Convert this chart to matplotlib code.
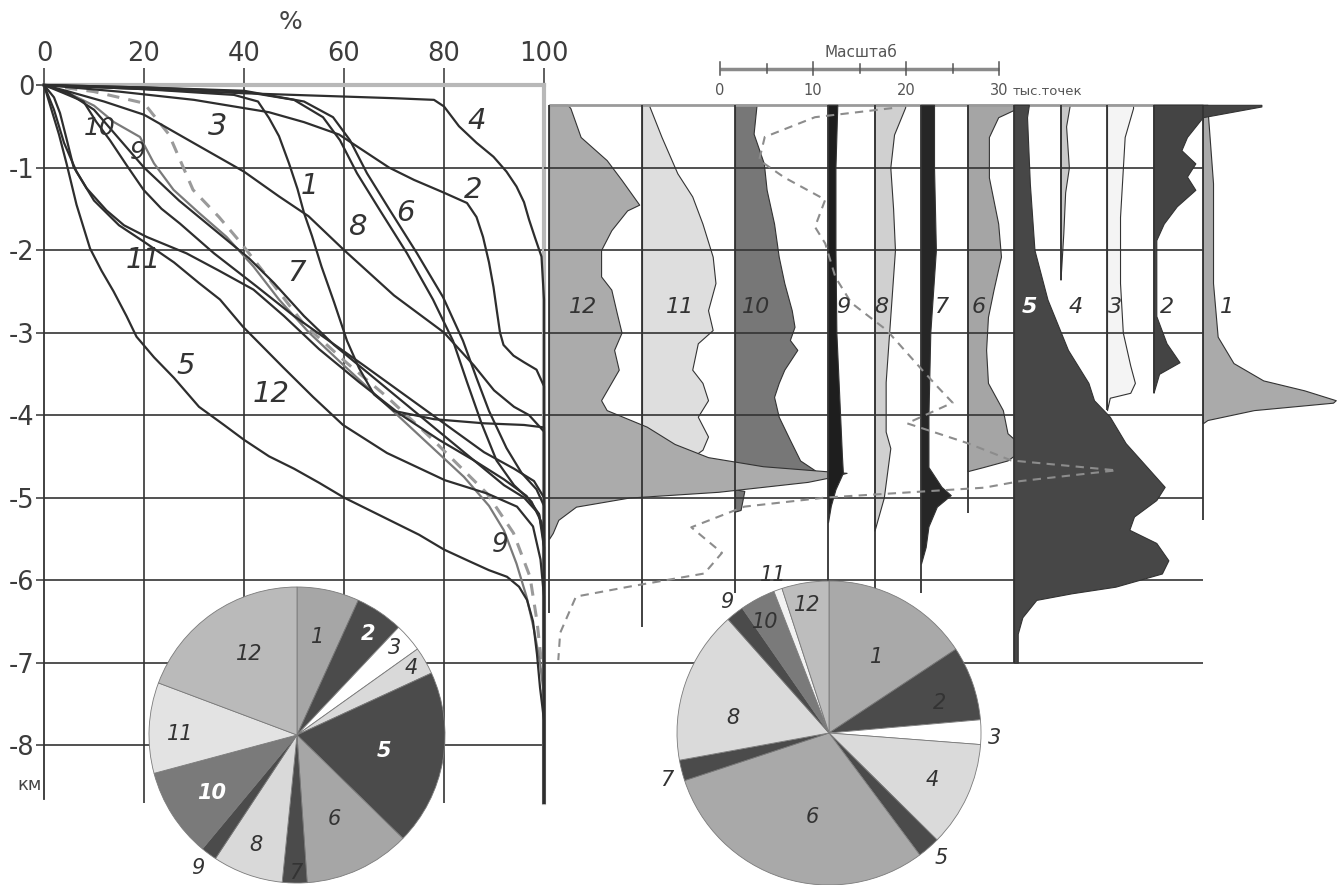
import matplotlib
matplotlib.use('Agg')
import matplotlib.pyplot as plt

plt.rcParams['font.family'] = ['DejaVu Sans']
plt.rcParams['axes.unicode_minus'] = False

W, H = 1337, 885

# ---------- cumulative curves: percent of points vs depth (km) ----------
curves = {
    '4': ([0, 20, 40, 60, 70, 78, 80, 83, 86.5, 89.9, 92.5, 94.5, 96, 97, 98.2, 99.5, 100, 100],
          [0, -0.05, -0.1, -0.14, -0.16, -0.18, -0.26, -0.5, -0.7, -0.87, -1.05, -1.23, -1.42, -1.63, -1.85, -2.08, -2.6, -8.7]),
    '2': ([0, 15, 30, 45, 52, 59, 64, 69, 74, 79.8, 84.6, 86.5, 87.8, 89, 89.9, 90.6, 91.2, 91.9, 93.9, 96, 98.5, 100, 100],
          [0, -0.08, -0.18, -0.33, -0.45, -0.6, -0.8, -1.0, -1.15, -1.3, -1.43, -1.6, -1.84, -2.15, -2.45, -2.75, -3.0, -3.15, -3.28, -3.36, -3.45, -3.65, -8.7]),
    '8': ([0, 20, 40, 50, 55.8, 59.2, 62.6, 67.2, 72.6, 77.8, 81.8, 84.6, 87.5, 90.5, 94, 97.5, 99.5, 100, 100],
          [0, -0.03, -0.08, -0.18, -0.39, -0.67, -1.07, -1.52, -2.04, -2.6, -3.1, -3.6, -4.1, -4.55, -4.85, -5.05, -5.3, -5.6, -8.7]),
    '6': ([0, 20, 40, 52, 57.8, 61.2, 64.6, 69.2, 74.6, 79.8, 83.8, 86.5, 89, 92.5, 95.5, 98.5, 100, 100],
          [0, -0.03, -0.07, -0.2, -0.39, -0.67, -1.07, -1.52, -2.04, -2.57, -3.1, -3.55, -3.95, -4.4, -4.7, -4.9, -5.1, -8.7]),
    '1': ([0, 20, 38, 42.8, 45, 47, 49, 50.7, 52, 53.6, 55.5, 58, 60.6, 63, 66, 70, 78, 88, 96, 100, 100],
          [0, -0.05, -0.12, -0.2, -0.4, -0.62, -0.95, -1.26, -1.55, -1.83, -2.2, -2.63, -3.1, -3.43, -3.75, -3.95, -4.05, -4.1, -4.12, -4.15, -8.7]),
    '3': ([0, 5, 12, 20, 31, 40, 47, 52.9, 60, 70, 80, 86, 90, 94, 97, 100, 100],
          [0, -0.08, -0.2, -0.36, -0.74, -1.05, -1.35, -1.59, -2.0, -2.55, -3.0, -3.4, -3.7, -3.9, -4.0, -4.2, -8.7]),
    '7': ([0, 5, 10, 15, 20, 27, 34, 41, 46, 52, 58, 64, 72, 80, 87, 92, 96, 99, 100, 100],
          [0, -0.1, -0.3, -0.65, -1.0, -1.4, -1.75, -2.1, -2.4, -2.8, -3.15, -3.45, -3.85, -4.25, -4.6, -4.85, -5.0, -5.2, -5.5, -8.7]),
    '10': ([0, 4, 7.9, 10.5, 13.2, 16.5, 19.9, 23.5, 27.2, 34, 42.5, 50, 57, 64, 72, 80, 88, 94, 98, 100, 100],
           [0, -0.1, -0.2, -0.45, -0.67, -0.97, -1.27, -1.5, -1.68, -2.04, -2.44, -2.8, -3.1, -3.4, -3.75, -4.1, -4.45, -4.65, -4.8, -5.0, -8.7]),
    '11': ([0, 2, 3.2, 4.5, 5.9, 8.5, 12.5, 16, 20.5, 28.5, 35, 41.9, 48, 55, 63, 71, 79, 86, 92, 96.5, 99, 100, 100],
           [0, -0.15, -0.34, -0.65, -0.99, -1.25, -1.52, -1.7, -1.84, -2.04, -2.25, -2.48, -2.8, -3.2, -3.6, -3.98, -4.3, -4.55, -4.78, -4.98, -5.2, -5.6, -8.7]),
    '12': ([0, 2, 4, 6.5, 10, 15, 20, 26, 31, 35.2, 39.8, 47.8, 53.8, 59.8, 68.6, 80.2, 88.6, 94.6, 97.8, 99.3, 100, 100],
           [0, -0.3, -0.7, -1.05, -1.4, -1.7, -1.9, -2.15, -2.4, -2.6, -2.93, -3.42, -3.78, -4.12, -4.46, -4.79, -4.95, -5.11, -5.35, -5.75, -6.2, -8.7]),
    '5': ([0, 1.5, 3, 4.5, 6.5, 9.2, 11.5, 13.9, 16.5, 18.5, 22, 26, 31, 36, 40, 45, 50, 55, 60, 65, 70, 75, 80, 85, 89, 92.6, 95, 96.6, 97.8, 98.6, 99.2, 100, 100],
          [0, -0.3, -0.6, -0.95, -1.45, -1.98, -2.25, -2.5, -2.8, -3.05, -3.3, -3.55, -3.9, -4.12, -4.3, -4.5, -4.65, -4.82, -5.0, -5.15, -5.3, -5.45, -5.63, -5.77, -5.88, -5.96, -6.08, -6.24, -6.5, -6.9, -7.3, -7.7, -8.7]),
}
curve9_pct = [0, 5, 10, 14, 19.2, 22, 25.9, 31, 36.5, 41.9, 47, 53, 60, 68, 76, 84, 89, 92, 94.5, 96.5, 98, 99.2, 100, 100]
curve9_dep = [0, -0.1, -0.25, -0.45, -0.63, -0.95, -1.27, -1.55, -1.84, -2.2, -2.6, -3.0, -3.4, -3.85, -4.3, -4.75, -5.1, -5.4, -5.8, -6.2, -6.6, -7.0, -7.4, -8.7]
total_pct = [0, 10, 20, 25, 29.8, 35, 39.2, 45, 52, 60.6, 68.6, 77.8, 88.6, 93.9, 97.2, 98.6, 99.5, 100, 100]
total_dep = [0, -0.08, -0.22, -0.6, -1.27, -1.6, -1.9, -2.35, -2.9, -3.37, -3.78, -4.3, -4.95, -5.43, -5.96, -6.5, -7.0, -7.5, -8.7]

curve_labels = ['10', '9', '3', '1', '8', '6', '2', '4', '7', '11', '5', '12', '9']
curve_label_x = [11.2, 18.7, 34.8, 53.0, 62.6, 72.2, 85.8, 86.6, 50.5, 19.8, 28.3, 45.5, 91.2]
curve_label_y = [-0.52, -0.81, -0.5, -1.23, -1.72, -1.55, -1.27, -0.44, -2.28, -2.12, -3.41, -3.74, -5.58]
curve_label_size = [18, 18, 22, 20, 21, 21, 21, 21, 21, 20, 21, 21, 19]

# ---------- depth profiles, thousand points ----------
hist = {
    '12': ([-0.24, -0.28, -0.63, -0.91, -1.15, -1.45, -1.52, -1.76, -2.0, -2.32, -2.48, -2.77, -3.0, -3.21, -3.45, -3.82, -3.94, -4.14, -4.35, -4.51, -4.62, -4.7, -4.76, -4.81, -4.93, -5.0, -5.11, -5.27, -5.43, -5.5],
           [2.0, 2.3, 3.4, 6.2, 7.8, 9.7, 8.4, 6.7, 5.6, 5.6, 6.7, 7.3, 7.8, 7.0, 7.5, 5.6, 6.2, 10.5, 13.5, 17.1, 23, 32, 30, 27.8, 18.2, 8.6, 2.9, 1.0, 0.4, 0]),
    '11': ([-0.24, -0.26, -0.63, -1.07, -1.35, -1.68, -2.08, -2.4, -2.73, -2.97, -3.13, -3.45, -3.61, -3.82, -4.02, -4.26, -4.42, -4.5, -4.6, -4.7],
           [0.8, 0.8, 2.1, 3.8, 5.4, 6.5, 7.6, 7.9, 7.1, 7.6, 6.0, 5.4, 6.5, 7.1, 6.0, 7.1, 6.5, 5.5, 3.0, 0]),
    '10': ([-0.24, -0.26, -0.59, -0.95, -1.27, -1.68, -2.08, -2.4, -2.73, -2.93, -3.09, -3.21, -3.45, -3.61, -3.78, -4.02, -4.3, -4.55, -4.67, -4.72, -4.9, -4.92, -5.15, -5.17],
           [2.3, 2.3, 2.0, 3.1, 3.4, 4.2, 4.7, 5.3, 6.1, 6.4, 5.9, 6.7, 5.3, 4.7, 4.2, 4.7, 5.9, 7.0, 8.6, 0, 0, 1.0, 0.6, 0]),
    '9': ([-0.24, -1.0, -2.0, -3.0, -3.5, -4.0, -4.5, -4.7, -4.9, -5.1, -5.3],
          [1.0, 0.8, 0.8, 0.9, 1.1, 1.3, 1.5, 1.6, 0.8, 0.3, 0]),
    '8': ([-0.24, -0.27, -0.6, -1.0, -1.5, -2.0, -2.8, -3.6, -4.2, -4.4, -5.0, -5.2, -5.4],
          [3.3, 3.3, 2.1, 1.7, 2.0, 2.2, 1.7, 1.2, 1.2, 1.7, 1.0, 0.5, 0]),
    '7': ([-0.24, -1.0, -2.0, -3.0, -4.0, -4.63, -4.87, -4.97, -5.11, -5.35, -5.6, -5.8],
          [1.4, 1.4, 1.6, 1.0, 0.8, 0.8, 2.2, 3.2, 1.7, 0.8, 0.5, 0]),
    '6': ([-0.24, -0.28, -0.39, -0.63, -1.12, -1.68, -2.08, -2.48, -2.81, -3.21, -3.61, -3.94, -4.22, -4.38, -4.45, -4.55, -4.63, -4.68],
          [5.4, 5.4, 3.3, 2.3, 2.3, 3.3, 3.6, 2.8, 2.2, 2.0, 2.2, 3.8, 4.3, 5.9, 5.5, 4.3, 1.7, 0]),
    '5': ([-0.24, -0.39, -1.19, -2.0, -2.6, -3.21, -3.61, -3.82, -4.02, -4.34, -4.63, -4.87, -5.03, -5.23, -5.39, -5.55, -5.76, -5.92, -6.08, -6.16, -6.24, -6.45, -6.65, -7.0],
          [1.6, 1.4, 1.7, 2.2, 3.6, 5.8, 8.0, 8.6, 10.3, 12.0, 14.3, 16.2, 15.3, 12.9, 12.4, 15.3, 16.6, 15.9, 10.9, 6.2, 2.4, 0.9, 0.4, 0.4]),
    '4': ([-0.24, -0.5, -1.0, -1.3, -1.8, -2.36],
          [1.0, 0.6, 0.9, 0.5, 0.3, 0]),
    '3': ([-0.24, -0.28, -0.63, -1.6, -2.4, -3.0, -3.4, -3.61, -3.73, -3.79, -3.94],
          [2.8, 2.8, 1.9, 1.4, 1.4, 1.7, 2.5, 3.0, 2.5, 0.3, 0]),
    '2': ([-0.24, -0.26, -0.39, -0.63, -0.79, -0.95, -1.11, -1.27, -1.47, -1.68, -1.88, -2.8, -3.13, -3.36, -3.5, -3.73],
          [11.6, 11.6, 5.3, 3.6, 3.0, 4.5, 3.6, 4.5, 2.5, 1.1, 0.3, 0.3, 1.4, 2.8, 0.6, 0]),
    '1': ([-0.24, -0.28, -1.19, -2.4, -3.05, -3.37, -3.58, -3.7, -3.82, -3.85, -3.94, -4.06, -4.1],
          [0.5, 0.5, 1.1, 1.1, 1.6, 3.3, 6.5, 10.9, 14.3, 14.0, 5.5, 0.5, 0]),
}
hist_order = ['11', '10', '12', '9', '8', '7', '6', '5', '4', '3', '2', '1']
hist_base = {'12': 0, '11': 10, '10': 20, '9': 30, '8': 35, '7': 40, '6': 45,
             '5': 50, '4': 55, '3': 60, '2': 65, '1': 70.3}
hist_bottom = {'12': -6.4, '11': -6.57, '10': -6.16, '9': -7.0, '8': -6.57, '7': -6.16,
               '6': -5.19, '5': -7.0, '4': -2.36, '3': -3.94, '2': -3.73, '1': -5.27}
hist_color = {'12': '#ababab', '11': '#dedede', '10': '#777777', '9': '#1e1e1e',
              '8': '#d0d0d0', '7': '#262626', '6': '#a5a5a5', '5': '#474747',
              '4': '#c8c8c8', '3': '#f4f4f4', '2': '#444444', '1': '#aaaaaa'}
hist_label_x = {'12': 3.7, '11': 14.1, '10': 22.3, '9': 31.6, '8': 35.7, '7': 42.3,
                '6': 46.2, '5': 51.7, '4': 56.6, '3': 60.9, '2': 66.4, '1': 72.9}

# total profile (dashed), thousand points from left baseline
total_k = [36.9, 28.6, 23.2, 22.6, 25.3, 29.7, 28.6, 29.7, 30.8, 32.5, 36.3, 40.1, 41.8, 43.4, 38.5, 45.0,
           49.7, 61.0, 50.7, 46.8, 29.7, 21.0, 15.3, 18.6, 16.7, 8.6, 2.9, 1.2, 1.0]
total_kd = [-0.28, -0.39, -0.63, -0.91, -1.12, -1.39, -1.72, -1.92, -2.33, -2.64, -2.97, -3.45, -3.66, -3.85,
            -4.1, -4.34, -4.55, -4.67, -4.8, -4.88, -5.0, -5.11, -5.36, -5.67, -5.92, -6.08, -6.2, -6.64, -6.97]

# ---------- pies ----------
pie_names = ['1', '2', '3', '4', '5', '6', '7', '8', '9', '10', '11', '12']
pie_left = [6.8, 5.25, 3.1, 3.0, 19.2, 11.6, 2.7, 7.7, 1.75, 9.8, 9.9, 19.3]
pie_right = [15.7, 7.9, 2.6, 11.2, 2.4, 30.1, 2.2, 16.3, 1.9, 3.75, 0.9, 5.0]
pie_left_colors = ['#a6a6a6', '#4b4b4b', '#ffffff', '#d9d9d9', '#4b4b4b', '#a6a6a6',
                   '#4b4b4b', '#d9d9d9', '#4b4b4b', '#7a7a7a', '#e3e3e3', '#bababa']
pie_right_colors = ['#a9a9a9', '#4b4b4b', '#ffffff', '#dadada', '#4b4b4b', '#a9a9a9',
                    '#4b4b4b', '#dadada', '#4b4b4b', '#7a7a7a', '#f2f2f2', '#bdbdbd']
pie_left_lx = [0.14, 0.48, 0.66, 0.77, 0.59, 0.25, -0.01, -0.28, -0.67, -0.58, -0.79, -0.32]
pie_left_ly = [0.66, 0.68, 0.59, 0.45, -0.11, -0.57, -0.93, -0.74, -0.90, -0.39, 0.01, 0.55]
pie_right_lx = [0.31, 0.73, 1.09, 0.68, 0.74, -0.11, -1.07, -0.63, -0.67, -0.42, -0.37, -0.14]
pie_right_ly = [0.50, 0.20, -0.03, -0.31, -0.82, -0.55, -0.31, 0.10, 0.86, 0.73, 1.04, 0.84]
pie_left_white = ['2', '5', '10']


def px_rect(x0, y0, x1, y1):
    return [x0 / W, 1 - y1 / H, (x1 - x0) / W, (y1 - y0) / H]


fig = plt.figure(figsize=(W / 100, H / 100), dpi=100)

# ---------- left: cumulative curves ----------
ax = fig.add_axes(px_rect(40, 68.5, 548, 807))
ax.set_xlim(-0.8, 100.8)
ax.set_ylim(-8.75, 0.2)
ax.patch.set_alpha(0)

ax.spines['bottom'].set_visible(False)
ax.spines['left'].set_position(('data', 0))
ax.spines['left'].set_bounds(-8.65, 0)
ax.spines['left'].set_color('#333333')
ax.spines['left'].set_linewidth(1.3)
ax.spines['top'].set_position(('data', 0))
ax.spines['top'].set_bounds(0, 100)
ax.spines['top'].set_color('#b8b8b8')
ax.spines['top'].set_linewidth(3)
ax.spines['right'].set_position(('data', 100))
ax.spines['right'].set_bounds(-8.7, 0)
ax.spines['right'].set_color('#b8b8b8')
ax.spines['right'].set_linewidth(3)

ax.xaxis.tick_top()
ax.set_xticks([0, 20, 40, 60, 80, 100])
ax.set_xticklabels(['0', '20', '40', '60', '80', '100'])
ax.tick_params(axis='x', direction='out', length=12, width=1.1, color='#333333',
               labelsize=18.5, labelcolor='#3c3c3c', pad=1)
ax.set_yticks(range(0, -9, -1))
ax.set_yticklabels([str(v) for v in range(0, -9, -1)])
ax.tick_params(axis='y', direction='out', length=6, width=1.1, color='#333333',
               labelsize=18.5, labelcolor='#3c3c3c', pad=1)

ax.vlines([20, 40, 60, 80], -8.7, 0, colors='#333333', lw=1.2, zorder=1)
ax.hlines(range(-8, 0), 0, 100, colors='#333333', lw=1.2, zorder=1)

ax.plot(total_pct, total_dep, color='#9a9a9a', lw=2.2, dashes=(4, 3), zorder=2.5)
ax.plot(curve9_pct, curve9_dep, color='#7a7a7a', lw=1.6, zorder=2.6)
for name, (pct, dep) in curves.items():
    ax.plot(pct, dep, color='#2e2e2e', lw=1.6, zorder=3, solid_joinstyle='round')

for t, x, y, s in zip(curve_labels, curve_label_x, curve_label_y, curve_label_size):
    ax.text(x, y, t, fontsize=s, style='italic', color='#333333',
            ha='center', va='center', zorder=4)

ax.text(-2.8, -8.48, 'км', fontsize=13, color='#444444', ha='center', va='center')
fig.text(291 / W, 1 - 22 / H, '%', fontsize=18, color='#444444', ha='center', va='center')

# ---------- right: depth profiles ----------
K_PX = 9.3
ax2 = fig.add_axes(px_rect(544, 0, W, 807))
ax2.set_xlim(-5 / K_PX, (W - 549) / K_PX)
ax2.set_ylim(-8.75, 85 / 82.5)
ax2.axis('off')

ax2.hlines(range(-7, 0), -5 / K_PX, hist_base['1'], colors='#333333', lw=1.2, zorder=2.5)
ax2.hlines(-0.24, 0, hist_base['1'], colors='#9a9a9a', lw=2, zorder=2.5)

for name in hist_order:
    dep, wid = hist[name]
    b = hist_base[name]
    z = 3 if name in ('5', '9', '7', '2') else 2
    ax2.fill_betweenx(dep, b, [b + w for w in wid], facecolor=hist_color[name],
                      edgecolor='#333333', lw=0.8, zorder=z)
    ax2.vlines(b, hist_bottom[name], -0.24, colors='#333333', lw=1.3, zorder=3.5)
    white = name == '5'
    ax2.text(hist_label_x[name], -2.69, name, fontsize=16, style='italic',
             color='white' if white else '#333333',
             fontweight='bold' if white else 'normal',
             ha='center', va='center', zorder=6)

ax2.plot(total_k, total_kd, color='#8c8c8c', lw=1.5, dashes=(4, 3), zorder=5)

# scale bar
s0 = (720 - 549) / K_PX
ybar = (85 - 69) / 82.5
ax2.plot([s0, s0 + 30], [ybar, ybar], color='#8a8a8a', lw=2.5, solid_capstyle='butt')
for v in range(0, 31, 5):
    top, bot = (ybar + 0.09, ybar - 0.07) if v % 10 == 0 else (ybar + 0.06, ybar - 0.05)
    ax2.plot([s0 + v, s0 + v], [bot, top], color='#555555', lw=1.1)
for v in (0, 10, 20, 30):
    ax2.text(s0 + v, (85 - 90) / 82.5, str(v), fontsize=10.5, color='#555555',
             ha='center', va='center')
ax2.text((1013 - 549) / K_PX, (85 - 91) / 82.5, 'тыс.точек', fontsize=9.5,
         color='#555555', ha='left', va='center')
ax2.text((861 - 549) / K_PX, (85 - 52) / 82.5, 'Масштаб', fontsize=11,
         color='#555555', ha='center', va='center')


# ---------- pies ----------
def draw_pie(cx, cy, r, values, colors, lx, ly, white):
    pax = fig.add_axes(px_rect(cx - r, cy - r, cx + r, cy + r))
    pax.pie(values, colors=colors, startangle=90, counterclock=False, radius=1,
            wedgeprops=dict(edgecolor='#7a7a7a', linewidth=0.6))
    pax.set_xlim(-1, 1)
    pax.set_ylim(-1, 1)
    pax.set_aspect('auto')
    pax.axis('off')
    for name, x, y in zip(pie_names, lx, ly):
        wh = name in white
        pax.text(x, y, name, fontsize=15, style='italic',
                 color='white' if wh else '#333333',
                 fontweight='bold' if wh else 'normal',
                 ha='center', va='center')


draw_pie(297, 735, 148, pie_left, pie_left_colors, pie_left_lx, pie_left_ly, pie_left_white)
draw_pie(829, 733, 152, pie_right, pie_right_colors, pie_right_lx, pie_right_ly, [])

fig.savefig('out.png', dpi=100)
